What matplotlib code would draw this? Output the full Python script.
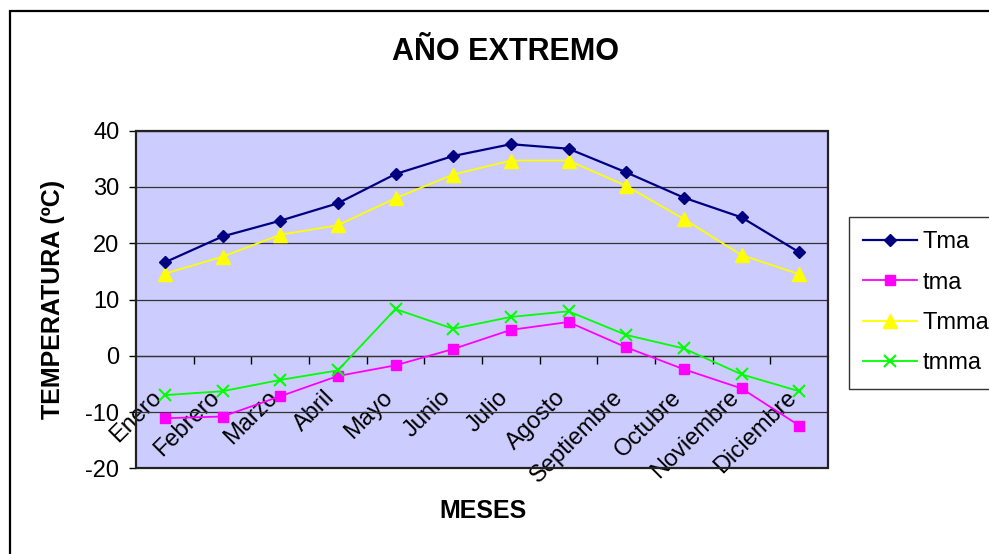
import matplotlib
matplotlib.use("Agg")
import matplotlib.pyplot as plt
from matplotlib.patches import Rectangle
from matplotlib.transforms import ScaledTranslation

plt.rcParams['font.family'] = ['Liberation Sans', 'DejaVu Sans']
plt.rcParams['axes.unicode_minus'] = False

meses = ["Enero", "Febrero", "Marzo", "Abril", "Mayo", "Junio", "Julio",
         "Agosto", "Septiembre", "Octubre", "Noviembre", "Diciembre"]
Tma = [16.6, 21.2, 24.0, 27.1, 32.3, 35.5, 37.6, 36.8, 32.6, 28.1, 24.6, 18.4]
tma = [-11.1, -10.8, -7.2, -3.6, -1.7, 1.2, 4.6, 6.0, 1.5, -2.4, -5.8, -12.4]
Tmma = [14.6, 17.6, 21.5, 23.2, 28.0, 32.2, 34.7, 34.7, 30.2, 24.3, 17.9, 14.5]
tmma = [-7.0, -6.3, -4.3, -2.6, 8.3, 4.8, 6.9, 7.9, 3.7, 1.3, -3.3, -6.3]
y_ticks = [-20, -10, 0, 10, 20, 30, 40]

W, H = 989, 554
fig = plt.figure(figsize=(W / 100, H / 100), dpi=100)
fig.patch.set_facecolor("white")

# outer chart frame (runs past the right and bottom edges)
fig.patches.append(Rectangle((10 / W, -0.1), 1.2, 1 - 11 / H + 0.1,
                             transform=fig.transFigure, fill=False,
                             edgecolor="black", linewidth=1.6))

ax = fig.add_axes([136 / W, 1 - 468.3 / H, (828 - 136) / W, (468.3 - 130.7) / H])
ax.set_facecolor("#CCCCFF")

x = list(range(len(meses)))
ax.plot(x, Tma, color="#000080", lw=1.6, marker="D", ms=6.6, label="Tma", zorder=5)
ax.plot(x, tma, color="#FF00FF", lw=1.3, marker="s", ms=7.8, label="tma", zorder=4)
ax.plot(x, Tmma, color="#FFFF00", lw=1.3, marker="^", ms=9.5, label="Tmma", zorder=4)
ax.plot(x, tmma, color="#00FF00", lw=1.3, marker="x", ms=8.5, mew=1.5, label="tmma", zorder=4)

ax.set_xlim(-0.5, len(meses) - 0.5)
ax.set_ylim(-20, 40)
ax.set_yticks(y_ticks)
ax.yaxis.grid(True, color="#333333", linewidth=0.9)
ax.set_axisbelow(True)

# category axis crosses at zero
ax.spines["bottom"].set_position(("data", 0))
ax.spines["bottom"].set_color("#333333")
ax.spines["bottom"].set_linewidth(0.9)
for s in ("top", "right"):
    ax.spines[s].set_visible(False)
ax.spines["left"].set_linewidth(1.3)
ax.spines["left"].set_color("black")
ax.add_patch(Rectangle((0, 0), 1, 1, transform=ax.transAxes, fill=False,
                       edgecolor="#222222", linewidth=1.6, clip_on=False, zorder=6))

ax.set_xticks(x)
ax.set_xticks([i + 0.5 for i in x[:-1]], minor=True)
ax.tick_params(axis="x", which="minor", length=5.5, width=1, direction="out", color="black")
ax.tick_params(axis="x", which="major", length=0, pad=22)
ax.set_xticklabels(meses, rotation=45, ha="right", va="top",
                   rotation_mode="anchor", fontsize=17)
shift = ScaledTranslation(-10 / 72, 0, fig.dpi_scale_trans)
for lbl in ax.get_xticklabels():
    lbl.set_transform(lbl.get_transform() + shift)

ax.tick_params(axis="y", length=5, width=1, direction="out", pad=7, labelsize=17)

fig.text(506 / W, 1 - 52 / H, "AÑO EXTREMO", ha="center", va="center",
         fontsize=22, fontweight="bold")
fig.text(53 / W, 1 - 299 / H, "TEMPERATURA (ºC)", rotation=90, ha="center",
         va="center", fontsize=18, fontweight="bold")
fig.text(483 / W, 1 - 511 / H, "MESES", ha="center", va="center",
         fontsize=18, fontweight="bold")

leg = fig.legend(loc="upper left", bbox_to_anchor=(849 / W, 1 - 217 / H),
                 bbox_transform=fig.transFigure, borderaxespad=0, fontsize=17,
                 frameon=True, fancybox=False, framealpha=1, edgecolor="#333333",
                 handlelength=2.3, handletextpad=0.21, labelspacing=0.78,
                 borderpad=0.6)
leg.get_frame().set_linewidth(1.0)

fig.savefig("out.png", dpi=100)
